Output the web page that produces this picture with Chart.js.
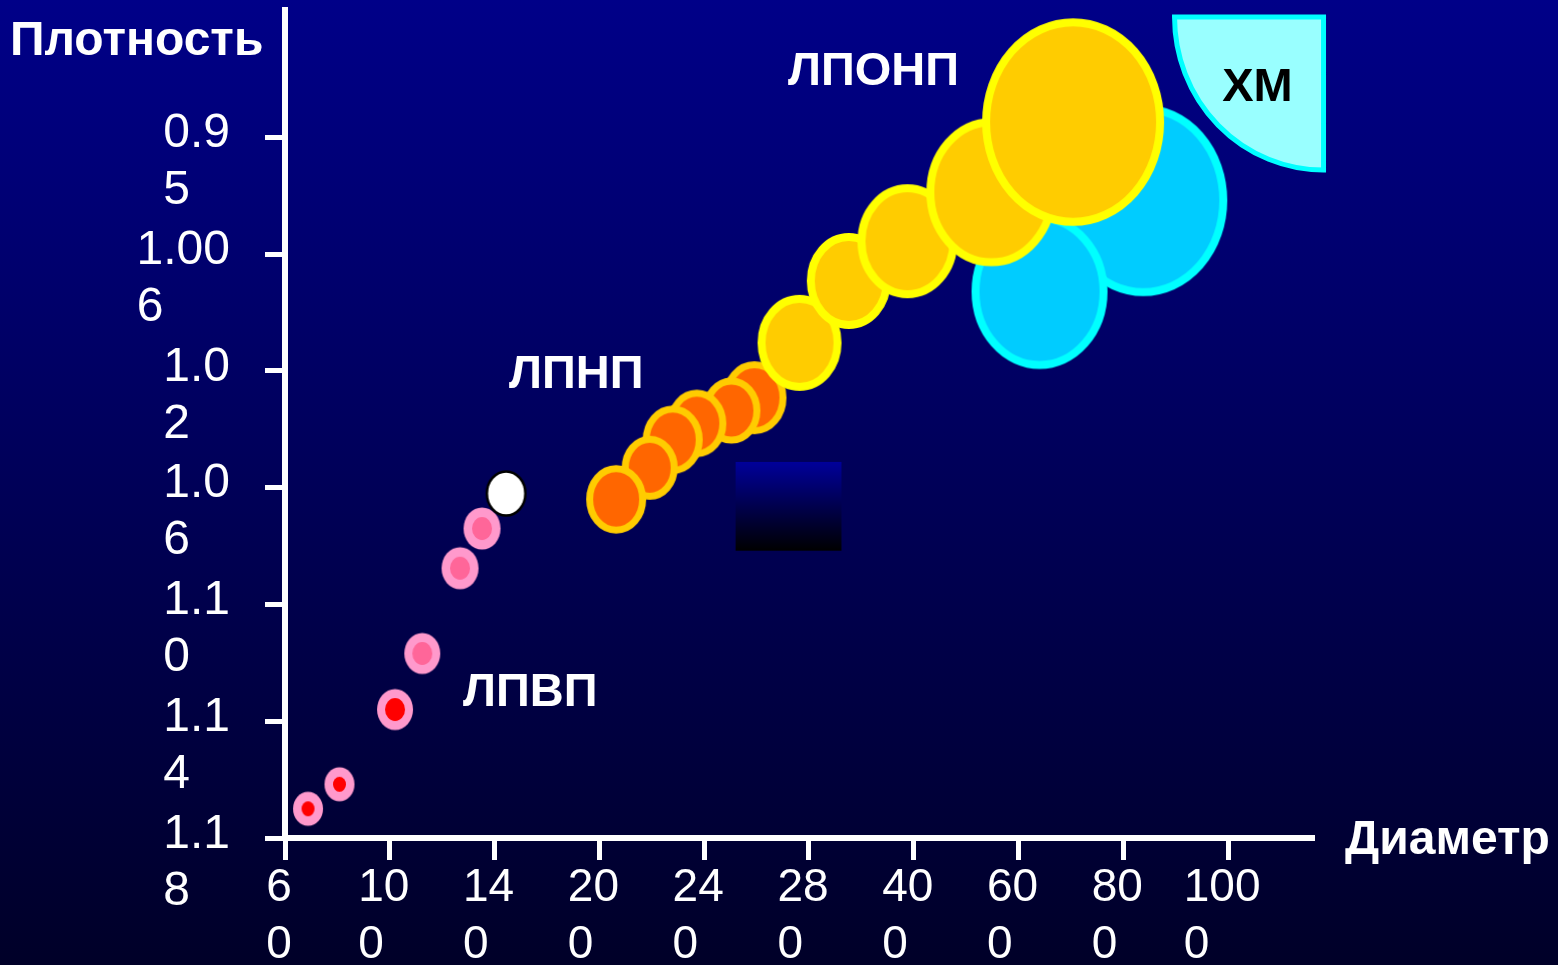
<!DOCTYPE html>
<html>
<head>
<meta charset="utf-8">
<script src="https://cdn.jsdelivr.net/npm/chart.js@4"></script>
<style>
  html, body { margin: 0; padding: 0; background: #000040; }
  #wrap { width: 1558px; height: 965px; position: relative; }
</style>
</head>
<body>
<div id="wrap"><canvas id="lipo"></canvas></div>
<script>
// tick labels, wrapped the way they are on the slide
const xTickLabels = [['6', '0'], ['10', '0'], ['14', '0'], ['20', '0'], ['24', '0'],
                     ['28', '0'], ['40', '0'], ['60', '0'], ['80', '0'], ['100', '0']];
const yTickLabels = [['0.9', '5'], ['1.00', '6'], ['1.0', '2'], ['1.0', '6'],
                     ['1.1', '0'], ['1.1', '4'], ['1.1', '8']];

// positions are in tick units (x: 0 = "60", y: 0 = "0.95", growing downwards)
// HDL (ЛПВП)
const hdlX = [0.22, 0.52, 1.05, 1.31, 1.67, 1.88];
const hdlY = [5.75, 5.54, 4.90, 4.42, 3.69, 3.35];
const hdlR = [15, 15, 18, 18, 18.5, 18.5];
const hdlCoreR = [6.5, 6.5, 10, 10, 10, 10];

// white particle
const whiteX = [2.11];
const whiteY = [3.05];
const whiteR = [20.5];

// LDL (ЛПНП), upper right first so the lower ones sit on top
const ldlX = [4.48, 4.26, 3.93, 3.70, 3.48, 3.16];
const ldlY = [2.23, 2.34, 2.45, 2.59, 2.83, 3.10];
const ldlR = [32, 29, 29.5, 30, 28, 30];

// VLDL (ЛПОНП)
const vldlX = [4.91, 5.38, 5.94, 6.74, 7.52];
const vldlY = [1.76, 1.23, 0.89, 0.47, -0.13];
const vldlR = [42, 42, 50, 65, 91];

// remnants (cyan)
const remX = [8.19, 7.20];
const remY = [0.54, 1.32];
const remR = [84, 68];

// chylomicrons corner (ХМ)
const xmCorner = [9.91, -1.03];

// text labels inside the plot
const labelText = ['ЛПОНП', 'ЛПНП', 'ЛПВП', 'ХМ'];
const labelX = [5.615, 2.78, 2.34, 9.28];
const labelY = [-0.445, 2.149, 4.872, -0.308];

// stray gradient box on the slide
const boxX = [4.30, 5.31];
const boxY = [2.78, 3.54];

const FONT = "'Liberation Sans', Arial, sans-serif";
const STRETCH = 1.14;
const hdlCoreColors = ['#ff0000', '#ff0000', '#ff0000', '#ff6699', '#ff6699', '#ff6699'];

// width units: digit = 2, '.' and space = 1 (Arial metrics)
function units(s) {
  let u = 0;
  for (const ch of s) u += (ch === '.' || ch === ' ') ? 1 : 2;
  return u;
}
function padLines(lines) {
  const w = units(lines[0]);
  return lines.map(l => l + ' '.repeat(Math.max(0, w - units(l))));
}

const styleCache = {};
function ellipseStyle(r, fill, ring, bw) {
  const key = [r, fill, ring, bw].join('|');
  if (styleCache[key]) return styleCache[key];
  const rx = r, ry = r * STRETCH;
  const c = document.createElement('canvas');
  c.width = Math.ceil(rx * 2) + 2;
  c.height = Math.ceil(ry * 2) + 2;
  const g = c.getContext('2d');
  g.beginPath();
  g.ellipse(c.width / 2, c.height / 2, rx - bw / 2, ry - bw / 2, 0, 0, Math.PI * 2);
  g.fillStyle = fill;
  g.fill();
  if (bw > 0) {
    g.lineWidth = bw;
    g.strokeStyle = ring;
    g.stroke();
  }
  styleCache[key] = c;
  return c;
}

function bubbleSet(label, xs, ys, rs, fill, ring, bw, order) {
  return {
    label: label,
    data: xs.map((x, i) => ({ x: x, y: ys[i], r: rs[i] })),
    order: order,
    backgroundColor: fill,
    borderColor: ring,
    borderWidth: bw,
    pointStyle: c => {
      if (!c.raw) return 'circle';
      const f = Array.isArray(fill) ? fill[c.dataIndex] : fill;
      return ellipseStyle(c.raw.r, f, ring, bw);
    }
  };
}

const decor = {
  id: 'decor',
  beforeDraw(chart) {
    const { ctx, width, height } = chart;
    const g = ctx.createLinearGradient(0, 0, 0, height);
    g.addColorStop(0, '#000088');
    g.addColorStop(1, '#000028');
    ctx.save();
    ctx.fillStyle = g;
    ctx.fillRect(0, 0, width, height);
    ctx.restore();
  },
  beforeDatasetsDraw(chart) {
    const { ctx, scales: { x, y } } = chart;
    const x0 = x.getPixelForValue(boxX[0]), x1 = x.getPixelForValue(boxX[1]);
    const y0 = y.getPixelForValue(boxY[0]), y1 = y.getPixelForValue(boxY[1]);
    const g = ctx.createLinearGradient(0, y0, 0, y1);
    g.addColorStop(0, '#00009a');
    g.addColorStop(1, '#000000');
    ctx.save();
    ctx.fillStyle = g;
    ctx.fillRect(x0, y0, x1 - x0, y1 - y0);
    ctx.restore();
  },
  afterDatasetsDraw(chart) {
    const { ctx, chartArea, scales: { x, y } } = chart;
    ctx.save();

    // ХМ quarter ellipse
    const cx = x.getPixelForValue(xmCorner[0]);
    const cy = y.getPixelForValue(xmCorner[1]);
    ctx.beginPath();
    ctx.moveTo(cx, cy);
    ctx.lineTo(cx, cy + 153);
    ctx.ellipse(cx, cy, 149, 153, 0, Math.PI / 2, Math.PI);
    ctx.closePath();
    ctx.fillStyle = '#99ffff';
    ctx.fill();
    ctx.lineWidth = 5;
    ctx.strokeStyle = '#00ffff';
    ctx.lineJoin = 'miter';
    ctx.stroke();

    ctx.font = 'bold 47px ' + FONT;
    ctx.textAlign = 'center';
    ctx.textBaseline = 'alphabetic';
    labelText.forEach((t, i) => {
      ctx.fillStyle = t === 'ХМ' ? '#000000' : '#ffffff';
      ctx.fillText(t, x.getPixelForValue(labelX[i]), y.getPixelForValue(labelY[i]));
    });

    // axis titles
    ctx.fillStyle = '#ffffff';
    ctx.font = 'bold 48px ' + FONT;
    ctx.textAlign = 'left';
    ctx.fillText('Плотность', 10, 55);
    ctx.fillText('Диаметр', chartArea.right + 33, chartArea.bottom + 16);
    ctx.restore();
  }
};

new Chart(document.getElementById('lipo'), {
  type: 'bubble',
  data: {
    datasets: [
      bubbleSet('ЛПВП ядро', hdlX, hdlY, hdlCoreR, hdlCoreColors, '#ff99cc', 0, 1),
      bubbleSet('white', whiteX, whiteY, whiteR, '#ffffff', '#000000', 2.5, 1),
      bubbleSet('ЛПВП', hdlX, hdlY, hdlR, '#ff99cc', '#ff99cc', 0, 2),
      bubbleSet('ЛПОНП', vldlX, vldlY, vldlR, '#ffcc00', '#ffff00', 8, 3),
      bubbleSet('ЛПНП', ldlX, ldlY, ldlR, '#ff6600', '#ffcc00', 7, 4),
      bubbleSet('ремнанты', remX, remY, remR, '#00ccff', '#00ffff', 8, 5)
    ]
  },
  options: {
    responsive: true,
    maintainAspectRatio: false,
    animation: false,
    events: [],
    layout: { autoPadding: false, padding: { top: 10, right: 246, left: 0, bottom: 0 } },
    plugins: { legend: { display: false }, tooltip: { enabled: false } },
    scales: {
      x: {
        type: 'linear',
        min: 0,
        max: 9.8,
        afterBuildTicks: s => { s.ticks = xTickLabels.map((_, i) => ({ value: i })); },
        afterFit: s => { s.height = 127; s.paddingLeft = 0; s.paddingRight = 0; },
        border: { display: true, color: '#ffffff', width: 6 },
        grid: { display: true, drawOnChartArea: false, drawTicks: true, tickLength: 22,
                tickWidth: 5, lineWidth: 5, color: '#ffffff', tickColor: '#ffffff' },
        ticks: {
          color: '#ffffff', font: { family: FONT, size: 46, lineHeight: 1.24 },
          padding: 0, labelOffset: -6, maxRotation: 0, autoSkip: false,
          callback: (v, i) => padLines(xTickLabels[i])
        }
      },
      y: {
        type: 'linear',
        reverse: true,
        min: -1.09,
        max: 6,
        afterBuildTicks: s => { s.ticks = yTickLabels.map((_, i) => ({ value: i })); },
        afterFit: s => { s.width = 285; s.paddingTop = 0; s.paddingBottom = 0; },
        border: { display: true, color: '#ffffff', width: 6 },
        grid: { display: true, drawOnChartArea: false, drawTicks: true, tickLength: 20,
                tickWidth: 5, lineWidth: 5, color: '#ffffff', tickColor: '#ffffff' },
        ticks: {
          color: '#ffffff', font: { family: FONT, size: 48, lineHeight: 1.19 },
          padding: 35, labelOffset: 25, autoSkip: false,
          callback: (v, i) => padLines(yTickLabels[i])
        }
      }
    }
  },
  plugins: [decor]
});
</script>
</body>
</html>
